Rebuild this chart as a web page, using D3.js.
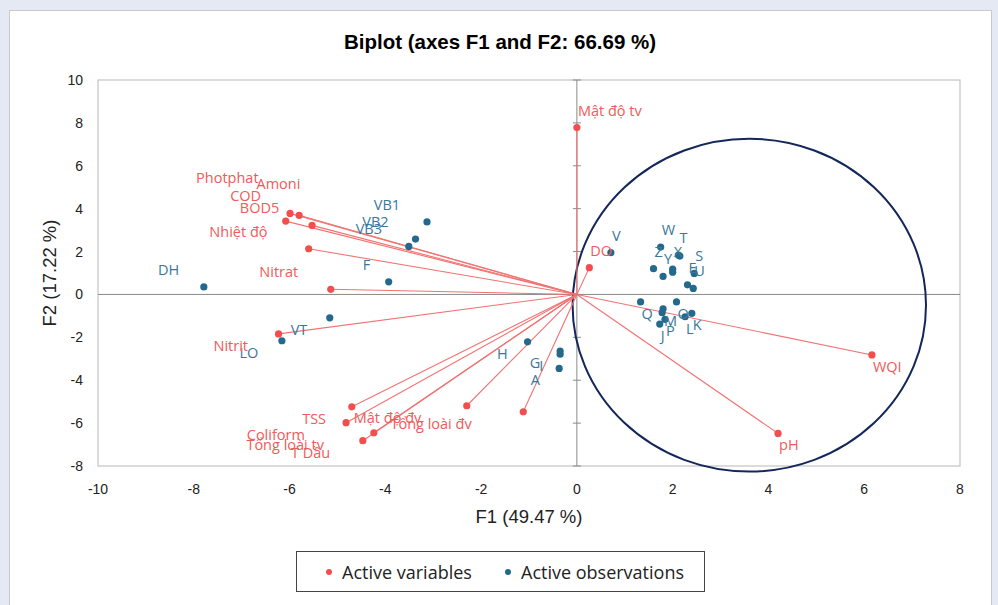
<html lang="en">
<head>
    <meta charset="UTF-8">
    <title>Biplot (axes F1 and F2)</title>
    <script src="https://d3js.org/d3.v7.min.js"></script>
    <style>
        body { margin: 0; background: #e5e9f3; }
        svg { display: block; }
    </style>
</head>
<body>
    <div id="my_dataviz"></div>
    <script>
        // tick values
        const xTicks = [-10, -8, -6, -4, -2, 0, 2, 4, 6, 8];
        const yTicks = [-8, -6, -4, -2, 0, 2, 4, 6, 8, 10];

        // active variables (F1, F2 coordinates)
        const varNames = ["Mật độ tv", "DO", "WQI", "pH", "Photphat", "Amoni", "COD", "BOD5", "Nhiệt độ", "Nitrat",
            "Nitrit", "TSS", "Coliform", "Tổng loài tv", "T Dầu", "Mật độ đv", "Tổng loài đv"];
        const varF1 = [0.0, 0.26, 6.16, 4.20, -6.08, -5.80, -5.99, -5.53, -5.60, -5.14,
            -6.23, -4.70, -4.82, -4.24, -4.47, -2.30, -1.12];
        const varF2 = [7.78, 1.25, -2.82, -6.48, 3.42, 3.69, 3.78, 3.22, 2.13, 0.24,
            -1.84, -5.24, -5.98, -6.45, -6.82, -5.19, -5.47];

        // active observations
        const obsNames = ["DH", "VB1", "VB2", "VB3", "F", "VT", "LO", "H", "G", "I", "A",
            "V", "W", "T", "", "Z", "X", "", "Y", "S", "E", "U",
            "Q", "O", "M", "", "P", "J", "L", "K"];
        const obsF1 = [-7.79, -3.13, -3.37, -3.51, -3.93, -5.16, -6.16, -1.03, -0.35, -0.35, -0.37,
            0.71, 1.75, 2.12, 2.15, 1.60, 2.00, 2.00, 1.80, 2.45, 2.31, 2.43,
            1.33, 2.08, 1.80, 1.78, 1.84, 1.73, 2.26, 2.40];
        const obsF2 = [0.35, 3.38, 2.58, 2.24, 0.59, -1.09, -2.16, -2.21, -2.64, -2.79, -3.45,
            1.95, 2.21, 1.84, 1.79, 1.20, 1.18, 1.04, 0.84, 0.98, 0.45, 0.28,
            -0.35, -0.35, -0.67, -0.85, -1.16, -1.38, -1.04, -0.88];

        // correlation circle (in F1/F2 units)
        const circle = { cx: 3.6, cy: -0.5, rx: 3.69, ry: 7.76 };

        const redDot = "#f24e4e", redLine = "#f27272", redText = "#f05a5a";
        const blueDot = "#23698c", blueText = "#3a7898";

        const W = 998, H = 605;
        const plot = { left: 98, right: 960, top: 80, bottom: 466 };

        const svg = d3.select("#my_dataviz")
            .append("svg")
            .attr("width", W)
            .attr("height", H);

        // white chart panel
        svg.append("rect")
            .attr("x", 9.5).attr("y", 10.5)
            .attr("width", 982).attr("height", 600)
            .attr("fill", "#fff")
            .attr("stroke", "#c9c9c9");

        svg.append("text")
            .attr("x", 500).attr("y", 49)
            .attr("text-anchor", "middle")
            .style("font-family", "'Liberation Sans', Arial, sans-serif")
            .style("font-size", "20.5px")
            .style("font-weight", "bold")
            .text("Biplot (axes F1 and F2: 66.69 %)");

        const x = d3.scaleLinear().domain([-10, 8]).range([plot.left, plot.right]);
        const y = d3.scaleLinear().domain([-8, 10]).range([plot.bottom, plot.top]);

        // plot border
        svg.append("rect")
            .attr("x", plot.left).attr("y", plot.top)
            .attr("width", plot.right - plot.left)
            .attr("height", plot.bottom - plot.top)
            .attr("fill", "none")
            .attr("stroke", "#c4c4c4")
            .attr("stroke-width", 1.2);

        // tick labels (Excel style, at the plot edges)
        svg.append("g")
            .selectAll("text")
            .data(xTicks)
            .enter()
            .append("text")
            .attr("x", d => x(d))
            .attr("y", plot.bottom + 28)
            .attr("text-anchor", "middle")
            .style("font-family", "'Liberation Sans', Arial, sans-serif")
            .style("font-size", "14px")
            .attr("fill", "#222")
            .text(d => d);

        svg.append("g")
            .selectAll("text")
            .data(yTicks)
            .enter()
            .append("text")
            .attr("x", plot.left - 15)
            .attr("y", d => y(d) + 5)
            .attr("text-anchor", "end")
            .style("font-family", "'Liberation Sans', Arial, sans-serif")
            .style("font-size", "14px")
            .attr("fill", "#222")
            .text(d => d);

        // axes crossing at zero
        svg.append("line")
            .attr("x1", plot.left).attr("x2", plot.right)
            .attr("y1", y(0)).attr("y2", y(0))
            .attr("stroke", "#8a8a8a");
        svg.append("line")
            .attr("x1", x(0)).attr("x2", x(0))
            .attr("y1", plot.top).attr("y2", plot.bottom)
            .attr("stroke", "#8a8a8a");
        svg.append("g")
            .selectAll("line")
            .data(yTicks)
            .enter()
            .append("line")
            .attr("x1", x(0) - 4).attr("x2", x(0) + 4)
            .attr("y1", d => y(d)).attr("y2", d => y(d))
            .attr("stroke", "#8a8a8a");

        // axis titles
        svg.append("text")
            .attr("x", (plot.left + plot.right) / 2)
            .attr("y", 523)
            .attr("text-anchor", "middle")
            .style("font-family", "'Liberation Sans', Arial, sans-serif")
            .style("font-size", "18.5px")
            .attr("fill", "#222")
            .text("F1 (49.47 %)");
        svg.append("text")
            .attr("transform", "translate(56," + (plot.top + plot.bottom) / 2 + ") rotate(-90)")
            .attr("text-anchor", "middle")
            .style("font-family", "'Liberation Sans', Arial, sans-serif")
            .style("font-size", "18.5px")
            .attr("fill", "#222")
            .text("F2 (17.22 %)");

        // correlation circle
        svg.append("ellipse")
            .attr("cx", x(circle.cx))
            .attr("cy", y(circle.cy))
            .attr("rx", x(circle.cx + circle.rx) - x(circle.cx))
            .attr("ry", y(circle.cy) - y(circle.cy + circle.ry))
            .attr("fill", "none")
            .attr("stroke", "#14275a")
            .attr("stroke-width", 2);

        const vars = varNames.map((n, i) => ({ name: n, f1: varF1[i], f2: varF2[i] }));
        const obs = obsNames.map((n, i) => ({ name: n, f1: obsF1[i], f2: obsF2[i] }));

        // vectors
        svg.append("g")
            .selectAll("line")
            .data(vars)
            .enter()
            .append("line")
            .attr("x1", x(0)).attr("y1", y(0))
            .attr("x2", d => x(d.f1)).attr("y2", d => y(d.f2))
            .attr("stroke", redLine)
            .attr("stroke-width", 1.1);

        svg.append("g")
            .selectAll("circle")
            .data(obs)
            .enter()
            .append("circle")
            .attr("cx", d => x(d.f1))
            .attr("cy", d => y(d.f2))
            .attr("r", 3.6)
            .style("fill", blueDot);

        svg.append("g")
            .selectAll("circle")
            .data(vars)
            .enter()
            .append("circle")
            .attr("cx", d => x(d.f1))
            .attr("cy", d => y(d.f2))
            .attr("r", 3.6)
            .style("fill", redDot);

        // labels: right side starts at the point, left side ends before it
        const nudge = { "Photphat": [16, -26], "Amoni": [36, -14] };

        function addLabels(data, color) {
            svg.append("g")
                .selectAll("text")
                .data(data.filter(d => d.name !== ""))
                .enter()
                .append("text")
                .style("font-family", "'Open Sans', sans-serif")
                .style("font-size", "14.5px")
                .attr("fill", color)
                .text(d => d.name)
                .each(function (d) {
                    const w = this.getComputedTextLength();
                    const px = x(d.f1), py = y(d.f2);
                    const n = nudge[d.name] || [0, 0];
                    const cy = py + (d.f2 >= 0 ? -17 : 12) + n[1];
                    let lx;
                    if (d.f1 >= -0.05) {
                        lx = px + 1;
                        d3.select(this).attr("text-anchor", "start");
                    } else {
                        lx = px - 15 - 0.45 * w;
                        d3.select(this).attr("text-anchor", "end");
                    }
                    d3.select(this).attr("x", lx + n[0]).attr("y", cy + 5);
                });
        }
        addLabels(obs, blueText);
        addLabels(vars, redText);

        // legend
        const lg = svg.append("g");
        lg.append("rect")
            .attr("x", 296.5).attr("y", 551.5)
            .attr("width", 408).attr("height", 40)
            .attr("fill", "#fff")
            .attr("stroke", "#444");
        const legendItems = [
            { label: "Active variables", color: redDot, x: 329 },
            { label: "Active observations", color: blueDot, x: 508 }
        ];
        legendItems.forEach(function (it) {
            lg.append("circle")
                .attr("cx", it.x).attr("cy", 572)
                .attr("r", 3)
                .style("fill", it.color);
            lg.append("text")
                .attr("x", it.x + 13).attr("y", 578.5)
                .style("font-family", "'Open Sans', sans-serif")
                .style("font-size", "18px")
                .attr("fill", "#222")
                .text(it.label);
        });
    </script>
</body>
</html>
